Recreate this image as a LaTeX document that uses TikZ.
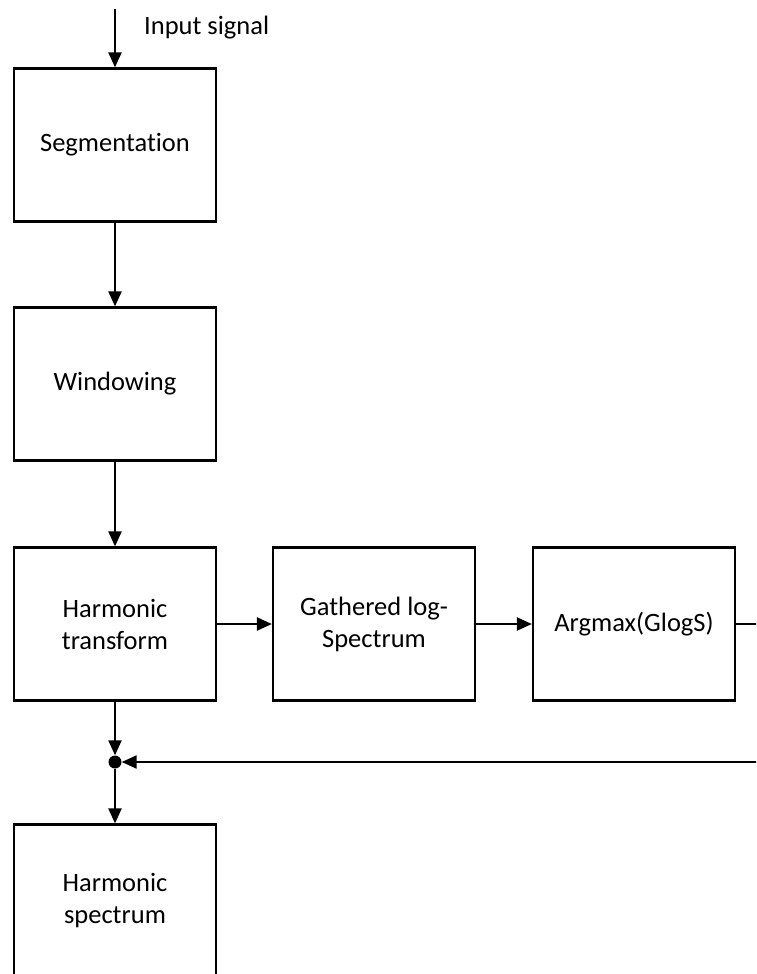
\documentclass[tikz,border=0pt]{standalone}
\usepackage{fontspec}
\setmainfont{Carlito}[Ligatures=NoCommon]
\usetikzlibrary{arrows.meta}
\begin{document}
\begin{tikzpicture}[x=1pt,y=-1pt,
  txt/.style={font=\fontsize{26.5}{32}\selectfont},
  blk/.style={draw,line width=2.2pt,rectangle,minimum width=202pt,minimum height=153pt,inner sep=0pt,align=center,txt},
  conn/.style={line width=2.2pt,-{Triangle[length=15pt,width=13pt]}}]
\useasboundingbox (0,0) rectangle (756,974);
\clip (0,0) rectangle (756,974);
\node[blk] (seg) at (115,145) {Segmentation};
\node[blk] (win) at (115,384) {Windowing};
\node[blk] (ht) at (115,624) {Harmonic\\transform};
\node[blk] (gl) at (374,624) {Gathered log-\\Spectrum};
\node[blk] (am) at (634,624) {Argmax(GlogS)};
\node[blk] (hs) at (115,901) {Harmonic\\spectrum};
\node[circle,fill,inner sep=0pt,minimum size=13pt] (dot) at (115,762) {};
\coordinate (in) at (115,9);
\node[txt,anchor=west,inner sep=0pt] (lab) at (144,28) {Input signal};
\coordinate (c1) at (790,624);
\coordinate (c2) at (790,762);
\draw[conn] (in) -- (seg);
\draw[conn] (seg) -- (win);
\draw[conn] (win) -- (ht);
\draw[conn] (ht) -- (gl);
\draw[conn] (gl) -- (am);
\draw[conn] (ht) -- (dot);
\draw[conn] (dot) -- (hs);
\draw[conn] (am.east) -- (c1) -- (c2) -- (dot);
\end{tikzpicture}
\end{document}
